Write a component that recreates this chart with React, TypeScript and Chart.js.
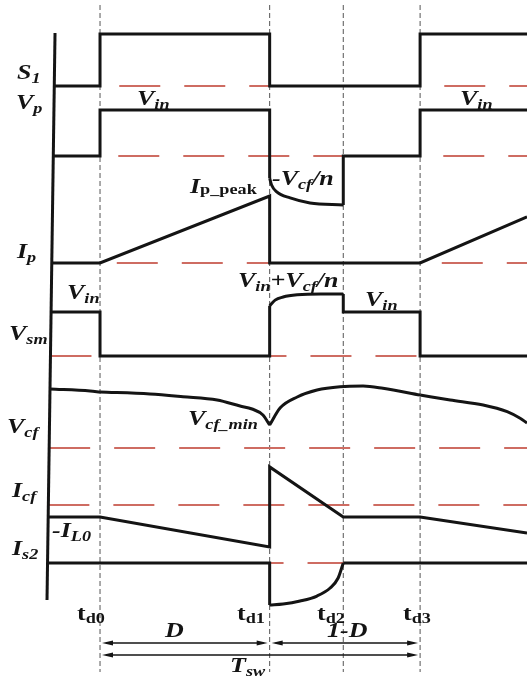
import React, { useEffect, useRef } from "react";
import { Chart, registerables } from "chart.js";

Chart.register(...registerables);

const W = 527;
const H = 679;

// Switching instants in units of the switching period (td0 = 0, td3 = Tsw)
const TD = [0, 0.53, 0.76, 1.0];
const TD_NAMES = ["d0", "d1", "d2", "d3"];
const [T0, T1, T2, T3] = TD;

// Horizontal view window (time units) and the end of the traces
const X_MIN = -0.3125;
const X_MAX = 1.334;
const T_END = X_MAX;

// Vertical axis line: slightly slanted, from top to bottom
const AXIS_T = [-0.1406, -0.1656];
const AXIS_Y = [33, 600];

// Each lane: baseline (vertical scale counts down from the top) and gain per unit
const LANES = {
  S1: { base: 86, gain: 52 },
  Vp: { base: 156, gain: 46 },
  Ip: { base: 263, gain: 67 },
  Vsm: { base: 356, gain: 44 },
  Vcf: { base: 448, gain: 60 },
  Icf: { base: 505, gain: 30 },
  Is2: { base: 563, gain: 42 },
};
type LaneKey = keyof typeof LANES;

// ---- waveforms (null = starts at the vertical axis) ----
// S1 gate signal
const S1_T = [null, T0, T0, T1, T1, T3, T3, T_END];
const S1_V = [0, 0, 1, 1, 0, 0, 1, 1];

// Primary voltage Vp (units of Vin)
const VP_T = [null, T0, T0, T1, T1];
const VP_V = [0, 0, 1, 1, -0.48];
const VP_CURVE_T = [T1, 0.536, 0.552, 0.594, 0.656, T2];
const VP_CURVE_V = [-0.48, -0.63, -0.78, -0.91, -1.02, -1.065];
const VP2_T = [T2, T2, T3, T3, T_END];
const VP2_V = [-1.065, 0, 0, 1, 1];

// Primary current Ip (units of Ip_peak)
const IP_T = [null, T0, T1, T1, T3, T_END];
const IP_V = [0, 0, 1, 0, 0, 0.69];

// Switch voltage Vsm (units of Vin)
const VSM_T = [null, T0, T0, T1, T1];
const VSM_V = [1, 1, 0, 0, 1.14];
const VSM_CURVE_T = [T1, 0.547, 0.572, 0.616, 0.69, T2];
const VSM_CURVE_V = [1.14, 1.27, 1.34, 1.39, 1.41, 1.41];
const VSM2_T = [T2, T2, T3, T3, T_END];
const VSM2_V = [1.41, 1, 1, 0, 0];

// Flying capacitor voltage Vcf
const VCF_A_T = [null, -0.031, T0];
const VCF_A_V = [0.983, 0.95, 0.933];
const VCF_B_T = [T0, 0.156, 0.259, 0.366, 0.4375, 0.475, 0.509, T1];
const VCF_B_V = [0.933, 0.9, 0.855, 0.8, 0.7, 0.65, 0.55, 0.383];
const VCF_C_T = [T1, 0.5625, 0.616, 0.678, 0.75, 0.822, 0.884, T3];
const VCF_C_V = [0.383, 0.667, 0.85, 0.967, 1.022, 1.033, 0.995, 0.883];
const VCF_D_T = [T3, 1.094, 1.197, 1.272, 1.3125, T_END];
const VCF_D_V = [0.883, 0.8, 0.717, 0.605, 0.495, 0.417];

// Flying capacitor current Icf
const ICF_T = [null, T0, T1, T1, T2, T3, T_END];
const ICF_V = [-0.4, -0.4, -1.4, 1.27, -0.4, -0.4, -0.93];

// Switch current Is2
const IS2_T = [null, T1, T1];
const IS2_V = [0, 0, -1];
const IS2_CURVE_T = [T1, 0.572, 0.625, 0.678, 0.719, 0.744, T2];
const IS2_CURVE_V = [-1, -0.976, -0.905, -0.786, -0.595, -0.357, 0];
const IS2_2_T = [T2, T_END];
const IS2_2_V = [0, 0];

const INK = "#141414";
const RED = "rgb(206,108,98)";
const GRID = "#555555";

function axisTAt(y: number) {
  return AXIS_T[0] + ((y - AXIS_Y[0]) / (AXIS_Y[1] - AXIS_Y[0])) * (AXIS_T[1] - AXIS_T[0]);
}

function pts(lane: LaneKey, ts: (number | null)[], vs: number[]) {
  const { base, gain } = LANES[lane];
  return ts.map((t, i) => {
    const y = base - gain * vs[i];
    return { x: t === null ? axisTAt(y) : t, y };
  });
}

function trace(lane: LaneKey, ts: (number | null)[], vs: number[], curved = false) {
  return {
    data: pts(lane, ts, vs),
    borderColor: INK,
    borderWidth: 3,
    showLine: true,
    pointRadius: 0,
    tension: 0,
    cubicInterpolationMode: curved ? "monotone" : "default",
    borderJoinStyle: "miter",
    borderCapStyle: "butt",
    order: 0,
  };
}

function refLine(lane: LaneKey) {
  const y = LANES[lane].base;
  return {
    data: [
      { x: axisTAt(y), y },
      { x: T_END, y },
    ],
    borderColor: RED,
    borderWidth: 2,
    borderDash: [41, 24],
    showLine: true,
    pointRadius: 0,
    order: 2,
  };
}

function timeMarker(t: number) {
  return {
    data: [
      { x: t, y: 5 },
      { x: t, y: 672 },
    ],
    borderColor: GRID,
    borderWidth: 1,
    borderDash: [5, 3],
    showLine: true,
    pointRadius: 0,
    order: 3,
  };
}

// ---- text ----
const FONT = '"Liberation Serif", "Times New Roman", serif';
const STYLES: Record<string, { size: number; italic: boolean; dy: number }> = {
  M: { size: 20, italic: true, dy: 0 },
  s: { size: 14, italic: true, dy: 4 },
  p: { size: 14, italic: false, dy: 1 },
  T: { size: 20, italic: false, dy: 0 },
  d: { size: 14, italic: false, dy: 3 },
};
const SX = 1.3;

type Part = [string, string];
type Label = { x: number; y: number; parts: Part[] };

const LABELS: Label[] = [
  { x: 17, y: 79, parts: [["S", "M"], ["1", "s"]] },
  { x: 16, y: 109, parts: [["V", "M"], ["p", "s"]] },
  { x: 17, y: 258, parts: [["I", "M"], ["p", "s"]] },
  { x: 9, y: 340, parts: [["V", "M"], ["sm", "s"]] },
  { x: 7, y: 433, parts: [["V", "M"], ["cf", "s"]] },
  { x: 12, y: 497, parts: [["I", "M"], ["cf", "s"]] },
  { x: 12, y: 555, parts: [["I", "M"], ["s2", "s"]] },
  { x: 137, y: 105, parts: [["V", "M"], ["in", "s"]] },
  { x: 460, y: 105, parts: [["V", "M"], ["in", "s"]] },
  { x: 190, y: 193, parts: [["I", "M"], ["p_peak", "p"]] },
  { x: 272, y: 185, parts: [["-V", "M"], ["cf", "s"], ["/n", "M"]] },
  { x: 238, y: 287, parts: [["V", "M"], ["in", "s"], ["+V", "M"], ["cf", "s"], ["/n", "M"]] },
  { x: 67, y: 299, parts: [["V", "M"], ["in", "s"]] },
  { x: 365, y: 306, parts: [["V", "M"], ["in", "s"]] },
  { x: 188, y: 425, parts: [["V", "M"], ["cf_min", "s"]] },
  { x: 52, y: 537, parts: [["-I", "M"], ["L0", "s"]] },
  { x: 165, y: 637, parts: [["D", "M"]] },
  { x: 327, y: 637, parts: [["1-D", "M"]] },
  { x: 230, y: 672, parts: [["T", "M"], ["sw", "s"]] },
];
const TD_LABEL_X = [77, 237, 317, 403];
const TD_LABEL_Y = 620;

// Period annotations: [from, to, row]
const SPANS: [number, number, number][] = [
  [T0, T1, 643],
  [T1, T3, 643],
  [T0, T3, 655],
];

function drawRich(ctx: CanvasRenderingContext2D, x: number, y: number, parts: Part[]) {
  ctx.save();
  ctx.translate(x, y);
  ctx.scale(SX, 1);
  ctx.fillStyle = INK;
  ctx.textBaseline = "alphabetic";
  let cx = 0;
  for (const [txt, key] of parts) {
    const s = STYLES[key];
    ctx.font = `${s.italic ? "italic " : ""}bold ${s.size}px ${FONT}`;
    ctx.fillText(txt, cx, s.dy);
    cx += ctx.measureText(txt).width;
  }
  ctx.restore();
}

function arrowHead(ctx: CanvasRenderingContext2D, x: number, y: number, dir: number) {
  ctx.beginPath();
  ctx.moveTo(x, y);
  ctx.lineTo(x - dir * 11, y - 2.6);
  ctx.lineTo(x - dir * 11, y + 2.6);
  ctx.closePath();
  ctx.fill();
}

const annotations = {
  id: "annotations",
  afterDatasetsDraw(chart: Chart) {
    const ctx = chart.ctx;
    const xs = chart.scales.x;
    const ys = chart.scales.y;
    ctx.save();
    for (const l of LABELS) drawRich(ctx, l.x, l.y, l.parts);
    TD_NAMES.forEach((n, i) =>
      drawRich(ctx, TD_LABEL_X[i], TD_LABEL_Y, [["t", "T"], [n, "d"]])
    );
    ctx.strokeStyle = INK;
    ctx.fillStyle = INK;
    ctx.lineWidth = 1.4;
    for (const [a, b, row] of SPANS) {
      const xa = xs.getPixelForValue(a) + 2;
      const xb = xs.getPixelForValue(b) - 2;
      const y = ys.getPixelForValue(row);
      ctx.beginPath();
      ctx.moveTo(xa + 4, y);
      ctx.lineTo(xb - 4, y);
      ctx.stroke();
      arrowHead(ctx, xa, y, -1);
      arrowHead(ctx, xb, y, 1);
    }
    ctx.restore();
  },
};

export default function App() {
  const ref = useRef<HTMLCanvasElement | null>(null);

  useEffect(() => {
    if (!ref.current) return;
    const datasets: any[] = [
      // vertical axis
      {
        data: [
          { x: AXIS_T[0], y: AXIS_Y[0] },
          { x: AXIS_T[1], y: AXIS_Y[1] },
        ],
        borderColor: INK,
        borderWidth: 3,
        showLine: true,
        pointRadius: 0,
        order: 0,
      },
      trace("S1", S1_T, S1_V),
      trace("Vp", VP_T, VP_V),
      trace("Vp", VP_CURVE_T, VP_CURVE_V, true),
      trace("Vp", VP2_T, VP2_V),
      trace("Ip", IP_T, IP_V),
      trace("Vsm", VSM_T, VSM_V),
      trace("Vsm", VSM_CURVE_T, VSM_CURVE_V, true),
      trace("Vsm", VSM2_T, VSM2_V),
      trace("Vcf", VCF_A_T, VCF_A_V, true),
      trace("Vcf", VCF_B_T, VCF_B_V, true),
      trace("Vcf", VCF_C_T, VCF_C_V, true),
      trace("Vcf", VCF_D_T, VCF_D_V, true),
      trace("Icf", ICF_T, ICF_V),
      trace("Is2", IS2_T, IS2_V),
      trace("Is2", IS2_CURVE_T, IS2_CURVE_V, true),
      trace("Is2", IS2_2_T, IS2_2_V),
      ...(Object.keys(LANES) as LaneKey[]).map(refLine),
      ...TD.map(timeMarker),
    ];
    const chart = new Chart(ref.current, {
      type: "scatter",
      data: { datasets },
      options: {
        animation: false,
        responsive: false,
        layout: { padding: 0 },
        scales: {
          x: { type: "linear", min: X_MIN, max: X_MAX, display: false },
          y: { type: "linear", min: 0, max: H, reverse: true, display: false },
        },
        plugins: { legend: { display: false }, tooltip: { enabled: false } },
      },
      plugins: [annotations],
    });
    return () => chart.destroy();
  }, []);

  return (
    <div style={{ position: "absolute", left: 0, top: 0, width: W, height: H, background: "#fff" }}>
      <canvas ref={ref} width={W} height={H} style={{ display: "block" }} />
    </div>
  );
}
